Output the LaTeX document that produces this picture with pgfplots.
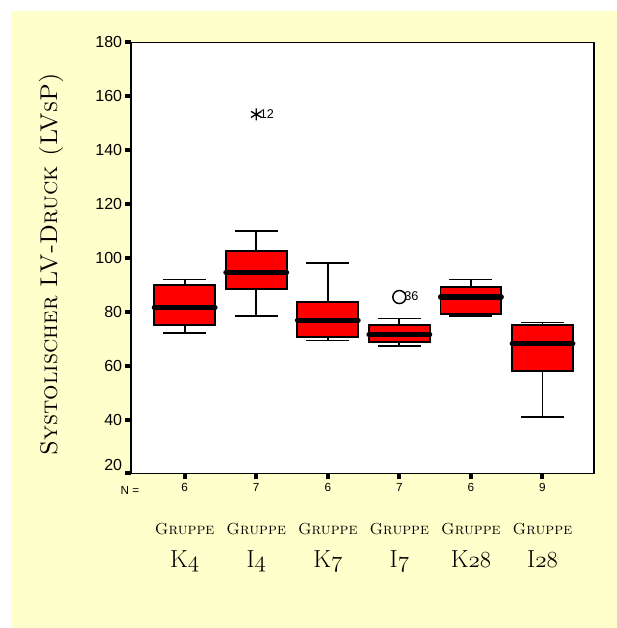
\documentclass[border=0pt]{standalone}
\usepackage{fontspec}
\usepackage{pgfplots}
\pgfplotsset{compat=1.18}
\usepgfplotslibrary{statistics}
\newfontfamily\arial{Liberation Sans}
\definecolor{bgyellow}{RGB}{255,255,204}
\newcommand{\osf}[1]{{\usefont{OML}{cmm}{m}{it}#1}}
\newcommand{\grp}{\fontsize{12}{14}\selectfont\textsc{Gruppe}}
\newcommand{\gname}[2]{\fontsize{18.5}{20}\selectfont #1\osf{#2}}
\begin{document}
\begin{tikzpicture}
\fill[white] (0pt,0pt) rectangle (462.75pt,-471pt);
\fill[bgyellow] (8.25pt,-8.25pt) rectangle (462.75pt,-471pt);
\node[rotate=90, anchor=base, inner sep=0pt] at (42.75pt,-198pt)
  {\fontsize{18.2}{20}\selectfont\textsc{Systolischer LV-Druck (LVsP)}};
\begin{axis}[
  at={(98.25pt,-355.1pt)}, anchor=south west,
  scale only axis, width=347.25pt, height=323.25pt,
  xmin=0.25, xmax=6.72, ymin=20, ymax=180,
  axis background/.style={fill=white},
  axis line style={line width=1.4pt},
  ytick={40,60,80,100,120,140,160,180},
  yticklabels={40,60,80,100,120,140,160,180},
  extra y ticks={20},
  extra y tick labels={20},
  extra y tick style={yticklabel style={yshift=6pt}},
  xtick={1,2,3,4,5,6},
  xticklabels={6,7,6,7,6,9},
  tick pos=left,
  tick align=outside,
  major tick length=4.5pt,
  tick style={line width=3pt, black},
  yticklabel style={font=\arial\fontsize{12}{13}\selectfont, inner sep=2pt},
  xticklabel style={font=\arial\fontsize{8.8}{10}\selectfont, inner sep=2.5pt},
  clip=false,
  boxplot/draw direction=y,
  boxplot/box extend=0.85,
  boxplot/whisker extend=0.6,
  boxplot/every box/.style={draw=black, fill=red, line width=1.4pt},
  boxplot/every whisker/.style={black, line width=1.3pt},
  boxplot/every median/.style={black, line width=3.8pt, line cap=round},
]
\addplot[boxplot prepared={draw position=1, lower whisker=72.2, lower quartile=75.0, median=81.6, upper quartile=89.9, upper whisker=92.0}] coordinates {};
\addplot[boxplot prepared={draw position=2, lower whisker=78.4, lower quartile=88.4, median=94.6, upper quartile=102.6, upper whisker=110.1},
  mark=asterisk, mark size=4.5pt, mark options={black, line width=1pt}] table[row sep=\\, y index=0] {data\\153.3\\};
\addplot[boxplot prepared={draw position=3, lower whisker=69.4, lower quartile=70.7, median=76.9, upper quartile=83.7, upper whisker=98.0}] coordinates {};
\addplot[boxplot prepared={draw position=4, lower whisker=67.3, lower quartile=68.8, median=71.6, upper quartile=75.0, upper whisker=77.5},
  mark=o, mark size=4.9pt, mark options={black, line width=1.1pt}] table[row sep=\\, y index=0] {data\\85.5\\};
\addplot[boxplot prepared={draw position=5, lower whisker=78.4, lower quartile=79.1, median=85.5, upper quartile=89.3, upper whisker=92.0}] coordinates {};
\addplot[boxplot prepared={draw position=6, lower whisker=40.9, lower quartile=58.0, median=68.2, upper quartile=75.0, upper whisker=76.0}] coordinates {};

\node[anchor=west, inner sep=0pt, xshift=2.5pt, font=\arial\fontsize{9.5}{10}\selectfont] at (axis cs:2,153.3) {12};
\node[anchor=west, inner sep=0pt, xshift=3.5pt, font=\arial\fontsize{9.5}{10}\selectfont] at (axis cs:4,86) {36};
\node[anchor=base, inner sep=0pt, xshift=-0.75pt, yshift=-15.9pt, font=\arial\fontsize{8.8}{10}\selectfont] at (axis cs:0.25,20) {N =};

\node[anchor=base, inner sep=0pt, yshift=-45.4pt] at (axis cs:1,20) {\grp};
\node[anchor=base, inner sep=0pt, yshift=-45.4pt] at (axis cs:2,20) {\grp};
\node[anchor=base, inner sep=0pt, yshift=-45.4pt] at (axis cs:3,20) {\grp};
\node[anchor=base, inner sep=0pt, yshift=-45.4pt] at (axis cs:4,20) {\grp};
\node[anchor=base, inner sep=0pt, yshift=-45.4pt] at (axis cs:5,20) {\grp};
\node[anchor=base, inner sep=0pt, yshift=-45.4pt] at (axis cs:6,20) {\grp};
\node[anchor=base, inner sep=0pt, yshift=-70.6pt] at (axis cs:1,20) {\gname{K}{4}};
\node[anchor=base, inner sep=0pt, yshift=-70.6pt] at (axis cs:2,20) {\gname{I}{4}};
\node[anchor=base, inner sep=0pt, yshift=-70.6pt] at (axis cs:3,20) {\gname{K}{7}};
\node[anchor=base, inner sep=0pt, yshift=-70.6pt] at (axis cs:4,20) {\gname{I}{7}};
\node[anchor=base, inner sep=0pt, yshift=-70.6pt] at (axis cs:5,20) {\gname{K}{28}};
\node[anchor=base, inner sep=0pt, yshift=-70.6pt] at (axis cs:6,20) {\gname{I}{28}};
\end{axis}
\end{tikzpicture}
\end{document}
